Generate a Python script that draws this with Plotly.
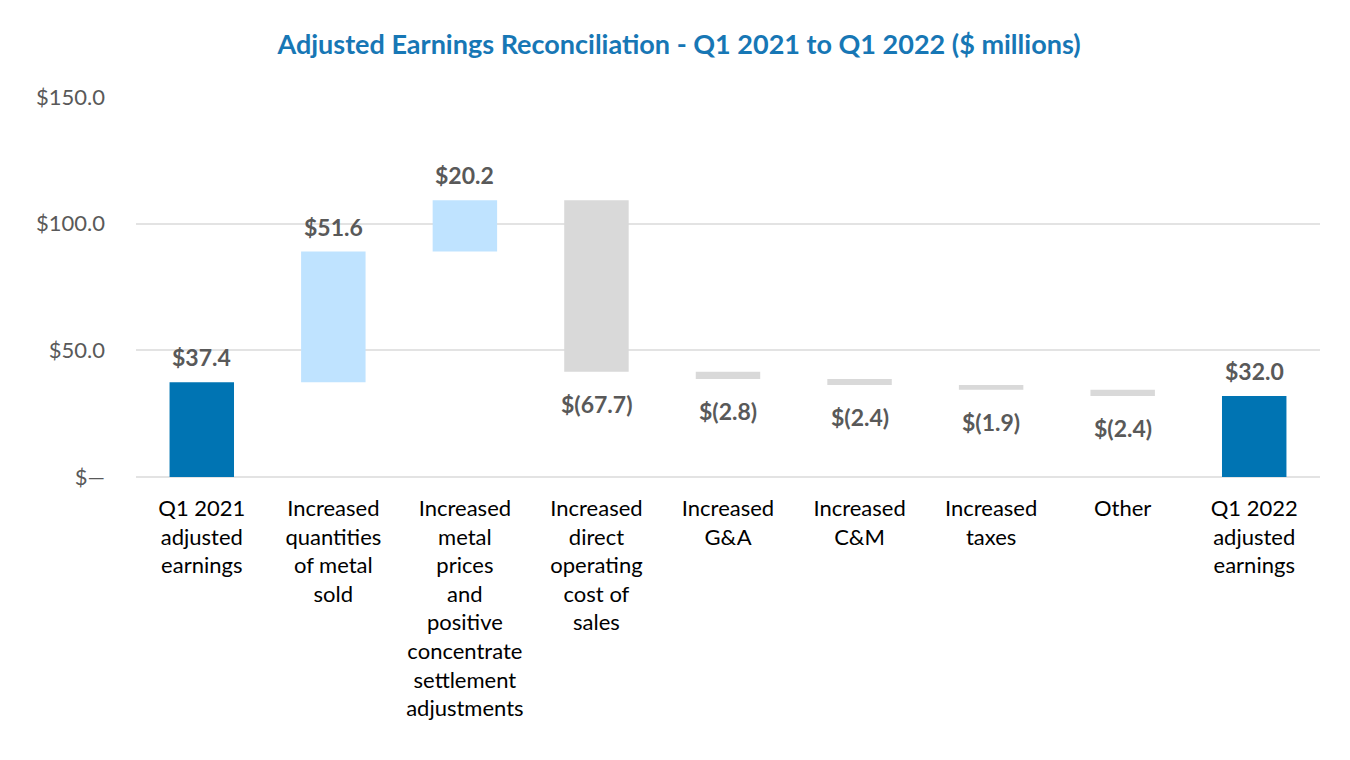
import plotly.graph_objects as go

categories = [
    "Q1 2021<br>adjusted<br>earnings",
    "Increased<br>quantities<br>of metal<br>sold",
    "Increased<br>metal<br>prices<br>and<br>positive<br>concentrate<br>settlement<br>adjustments",
    "Increased<br>direct<br>operating<br>cost of<br>sales",
    "Increased<br>G&A",
    "Increased<br>C&M",
    "Increased<br>taxes",
    "Other",
    "Q1 2022<br>adjusted<br>earnings",
]
values = [37.4, 51.6, 20.2, -67.7, -2.8, -2.4, -1.9, -2.4, 32.0]
measures = ["absolute", "relative", "relative", "relative", "relative",
            "relative", "relative", "relative", "total"]
ytick_vals = [0, 50, 100, 150]
ytick_text = ["$\u2014", "$50.0", "$100.0", "$150.0"]


def fmt(v):
    return f"${v:.1f}" if v >= 0 else f"$({abs(v):.1f})"


labels = [fmt(v) for v in values]

fig = go.Figure(go.Waterfall(
    x=categories,
    y=values,
    measure=measures,
    textposition="none",
    increasing=dict(marker=dict(color="#BFE3FF")),
    decreasing=dict(marker=dict(color="#D9D9D9")),
    totals=dict(marker=dict(color="#0074B3")),
    connector=dict(visible=False),
    width=0.49,
    hoverinfo="skip",
))

# data labels placed at the ends of the bars (computed from running totals)
running = 0.0
for cat, v, m, lab in zip(categories, values, measures, labels):
    if m == "absolute":
        base, end = 0.0, v
        running = v
    elif m == "total":
        base, end = 0.0, running
    else:
        base, end = running, running + v
        running = end
    if end >= base:
        fig.add_annotation(x=cat, y=end, text=lab, showarrow=False,
                           yanchor="bottom", yshift=9,
                           font=dict(family="Lato", size=23, color="#595959", weight="bold"))
    else:
        fig.add_annotation(x=cat, y=end, text=lab, showarrow=False,
                           yanchor="top", yshift=-16,
                           font=dict(family="Lato", size=23, color="#595959", weight="bold"))

fig.update_layout(
    width=1342, height=752,
    paper_bgcolor="white", plot_bgcolor="white",
    margin=dict(l=128, r=30, t=89, b=283),
    title=dict(
        text="Adjusted Earnings Reconciliation - Q1 2021 to Q1 2022 ($ millions)",
        x=0.5, xanchor="center", y=0.952, yanchor="middle",
        font=dict(family="Lato", size=27, color="#1777B5", weight="bold"),
    ),
    showlegend=False,
    font=dict(family="Lato"),
)
fig.update_yaxes(
    range=[0, 150], tickvals=ytick_vals, ticktext=ytick_text,
    showgrid=True, gridcolor="#E3E3E3", gridwidth=2,
    zeroline=True, zerolinecolor="#E3E3E3", zerolinewidth=2,
    tickfont=dict(family="Lato", size=22, color="#595959"),
    ticks="", ticklabelstandoff=30, automargin=False,
)
fig.update_xaxes(
    showgrid=False, showline=False, ticks="",
    tickfont=dict(family="Lato", size=22, color="#000000"),
    tickangle=0, automargin=False, ticklabelstandoff=16,
)

fig.write_html("out.html")
